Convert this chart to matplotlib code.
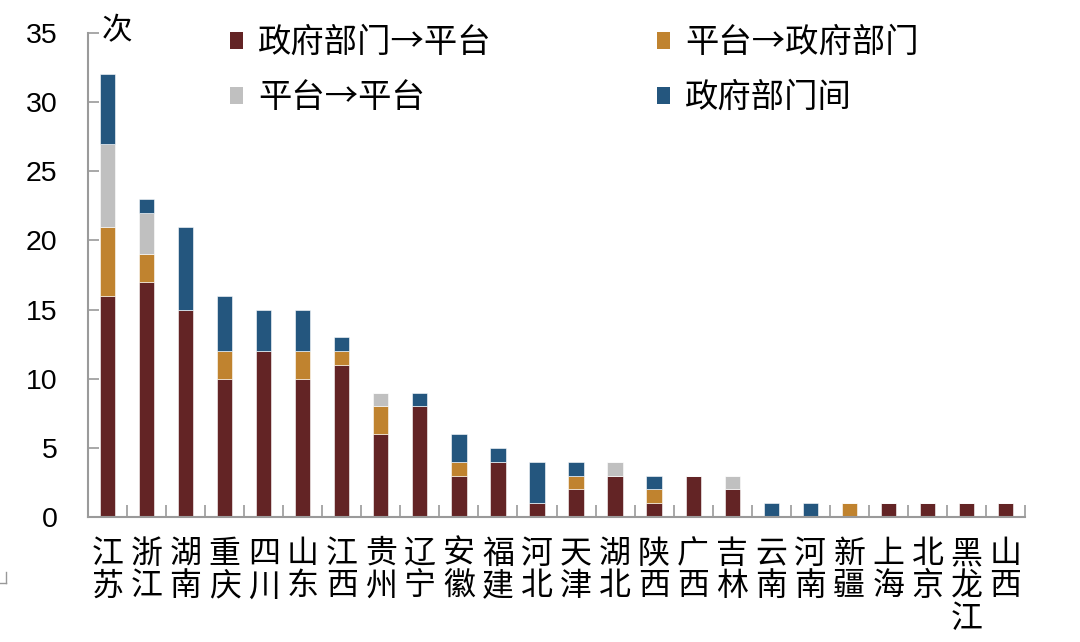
import matplotlib
matplotlib.use('Agg')
import matplotlib.pyplot as plt
from matplotlib.lines import Line2D
from matplotlib.patches import Patch
import numpy as np

provinces = ['江苏', '浙江', '湖南', '重庆', '四川', '山东', '江西', '贵州', '辽宁', '安徽',
             '福建', '河北', '天津', '湖北', '陕西', '广西', '吉林', '云南', '河南', '新疆',
             '上海', '北京', '黑龙江', '山西']
gov_to_platform = [16, 17, 15, 10, 12, 10, 11, 6, 8, 3, 4, 1, 2, 3, 1, 3, 2, 0, 0, 0, 1, 1, 1, 1]
platform_to_gov = [5, 2, 0, 2, 0, 2, 1, 2, 0, 1, 0, 0, 1, 0, 1, 0, 0, 0, 0, 1, 0, 0, 0, 0]
platform_to_platform = [6, 3, 0, 0, 0, 0, 0, 1, 0, 0, 0, 0, 0, 1, 0, 0, 1, 0, 0, 0, 0, 0, 0, 0]
between_gov = [5, 1, 6, 4, 3, 3, 1, 0, 1, 2, 1, 3, 1, 0, 1, 0, 0, 1, 1, 0, 0, 0, 0, 0]
series_names = ['政府部门→平台', '平台→政府部门', '平台→平台', '政府部门间']
colors = ['#632425', '#C0832F', '#C0C0C0', '#24567E']
y_ticks = [0, 5, 10, 15, 20, 25, 30, 35]
unit_label = '次'

plt.rcParams['font.family'] = ['Noto Sans CJK SC', 'DejaVu Sans']

fig = plt.figure(figsize=(10.8, 6.42), dpi=100)
ax = fig.add_axes([88 / 1080, 1 - 517 / 642, 937 / 1080, 484 / 642])

series = [gov_to_platform, platform_to_gov, platform_to_platform, between_gov]
x = np.arange(len(provinces))
bottom = np.zeros(len(provinces))
handles = []
for vals, name, col in zip(series, series_names, colors):
    v = np.array(vals, dtype=float)
    ax.bar(x, v, width=0.39, bottom=bottom, color=col, edgecolor='white', linewidth=0.4)
    bottom += v
    handles.append(Patch(facecolor=col, edgecolor='none', label=name))

ax.set_xlim(-0.5, len(provinces) - 0.5)
ax.set_ylim(0, 35)
ax.set_yticks(y_ticks)
ax.set_yticklabels([str(t) for t in y_ticks], fontfamily='Liberation Sans', fontsize=20.5)
ax.set_xticks(x)
ax.set_xticklabels(['\n'.join(p) for p in provinces], fontsize=23, linespacing=1.02)
ax.set_xticks(np.arange(-0.5, len(provinces), 1.0), minor=True)

gray = '#9a9a9a'
ax.tick_params(axis='y', direction='in', length=8, width=1.2, color=gray, pad=22)
ax.tick_params(axis='x', which='major', length=0, pad=15)
ax.tick_params(axis='x', which='minor', direction='in', length=9, width=1.2, color=gray)
for s in ['top', 'right']:
    ax.spines[s].set_visible(False)
for s in ['left', 'bottom']:
    ax.spines[s].set_color(gray)
    ax.spines[s].set_linewidth(1.5)

ax.text(14 / 937, 1.004, unit_label, transform=ax.transAxes, fontsize=22, va='center', ha='left')

order = [0, 2, 1, 3]
fig.legend([handles[i] for i in order], [series_names[i] for i in order],
           loc='upper left', bbox_to_anchor=(230 / 1080, 1 - 25 / 642), ncol=2,
           frameon=False, fontsize=24, handlelength=0.4, handleheight=0.4,
           handletextpad=0.45, columnspacing=4.95, labelspacing=0.6,
           borderpad=0, borderaxespad=0)

# small corner mark at lower left
fig.add_artist(Line2D([6 / 1080, 6 / 1080], [1 - 572 / 642, 1 - 583 / 642],
                      transform=fig.transFigure, color='#999999', lw=1))
fig.add_artist(Line2D([0, 6 / 1080], [1 - 583 / 642, 1 - 583 / 642],
                      transform=fig.transFigure, color='#999999', lw=1))

fig.savefig('out.png', dpi=100)
